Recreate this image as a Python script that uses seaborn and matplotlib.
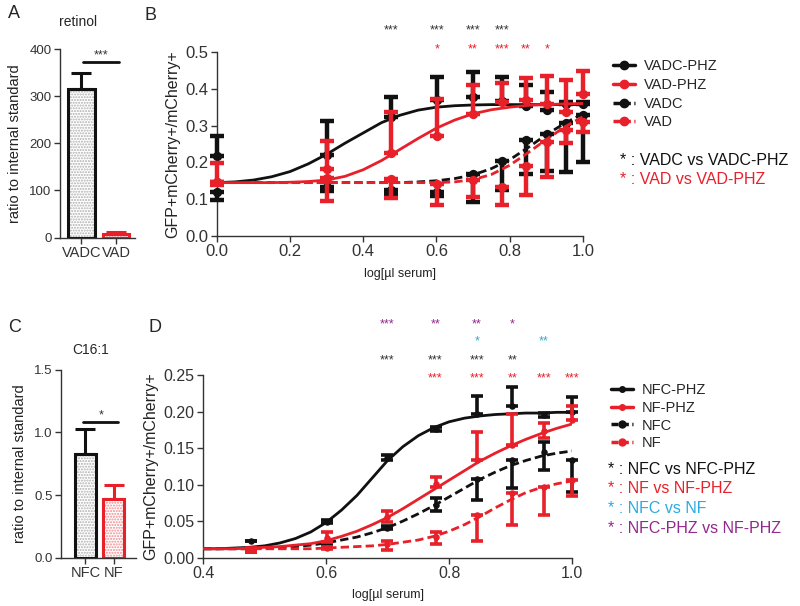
import matplotlib
matplotlib.use("Agg")
import matplotlib.pyplot as plt
from matplotlib.lines import Line2D
import numpy as np
import pandas as pd
import seaborn as sns

sns.set_style("ticks")
plt.rcParams['font.family'] = ['Liberation Sans', 'DejaVu Sans']

BLACK = '#111111'
RED = '#e8202a'
BLUE = '#29abe2'
PURPLE = '#93278f'
AXC = '#333333'

# ---- panel A / C: bar data
a_cats = ['VADC', 'VAD']
a_vals = [316, 8]
a_errs = [34, 4]
c_cats = ['NFC', 'NF']
c_vals = [0.827, 0.47]
c_errs = [0.20, 0.11]

# ---- panel B: points (x = log ul serum)
b_x = [0.0, 0.301, 0.477, 0.602, 0.699, 0.778, 0.845, 0.903, 0.954, 1.0]
b_vadc_phz = [0.217, 0.220, 0.322, 0.370, 0.379, 0.368, 0.354, 0.342, 0.360, 0.360]
b_vadc_phz_hi = [0.056, 0.092, 0.057, 0.061, 0.066, 0.063, 0.056, 0.048, 0.005, 0.005]
b_vad_phz = [0.148, 0.181, 0.226, 0.273, 0.331, 0.365, 0.370, 0.360, 0.338, 0.386]
b_vad_phz_hi = [0.051, 0.077, 0.112, 0.098, 0.079, 0.052, 0.058, 0.075, 0.086, 0.061]
b_vadc = [0.120, 0.132, 0.125, 0.120, 0.168, 0.205, 0.261, 0.277, 0.307, 0.329]
b_vadc_lo = [0.022, 0.010, 0.010, 0.010, 0.075, 0.080, 0.093, 0.100, 0.132, 0.127]
b_vad = [0.148, 0.157, 0.154, 0.140, 0.152, 0.134, 0.190, 0.256, 0.288, 0.310]
b_vad_lo = [0.010, 0.062, 0.051, 0.056, 0.045, 0.050, 0.079, 0.095, 0.034, 0.027]

# panel B fitted curves
bc_x = [0.0, 0.05, 0.1, 0.15, 0.2, 0.25, 0.3, 0.35, 0.4, 0.45, 0.5,
        0.55, 0.6, 0.65, 0.7, 0.75, 0.8, 0.85, 0.9, 0.95, 1.0]
bc_vadc_phz = [0.145, 0.147, 0.152, 0.161, 0.175, 0.196, 0.222, 0.252, 0.280, 0.308, 0.328,
               0.342, 0.350, 0.354, 0.356, 0.357, 0.357, 0.357, 0.357, 0.357, 0.357]
bc_vad_phz = [0.145, 0.145, 0.145, 0.145, 0.146, 0.148, 0.152, 0.162, 0.180, 0.205, 0.235,
              0.265, 0.293, 0.315, 0.332, 0.343, 0.350, 0.355, 0.357, 0.359, 0.360]
bc_vadc = [0.145, 0.145, 0.145, 0.145, 0.145, 0.145, 0.145, 0.145, 0.145, 0.145, 0.145,
           0.147, 0.150, 0.156, 0.166, 0.183, 0.207, 0.240, 0.275, 0.306, 0.332]
bc_vad = [0.145, 0.145, 0.145, 0.145, 0.145, 0.145, 0.145, 0.145, 0.145, 0.145, 0.145,
          0.145, 0.145, 0.147, 0.153, 0.167, 0.192, 0.226, 0.262, 0.296, 0.324]

# panel B significance
b_sig_black_x = [0.477, 0.602, 0.699, 0.778]
b_sig_black = ['***', '***', '***', '***']
b_sig_red_x = [0.602, 0.699, 0.778, 0.845, 0.903]
b_sig_red = ['*', '**', '***', '**', '*']

# ---- panel D: points
d_x = [0.477, 0.602, 0.699, 0.778, 0.845, 0.903, 0.954, 1.0]
d_nfc_phz = [0.022, 0.049, 0.137, 0.176, 0.197, 0.208, 0.195, 0.200]
d_nfc_phz_lo = [0.0, 0.002, 0.004, 0.003, 0.0, 0.0, 0.003, 0.0]
d_nfc_phz_hi = [0.0, 0.003, 0.004, 0.003, 0.024, 0.026, 0.003, 0.020]
d_nf_phz = [0.010, 0.027, 0.055, 0.101, 0.133, 0.154, 0.174, 0.188]
d_nf_phz_lo = [0.003, 0.006, 0.006, 0.005, 0.0, 0.0, 0.010, 0.0]
d_nf_phz_hi = [0.003, 0.008, 0.009, 0.009, 0.039, 0.043, 0.010, 0.020]
d_nfc = [0.012, 0.018, 0.041, 0.072, 0.108, 0.133, 0.145, 0.133]
d_nfc_lo = [0.005, 0.002, 0.002, 0.008, 0.029, 0.038, 0.025, 0.043]
d_nfc_hi = [0.0, 0.002, 0.002, 0.009, 0.0, 0.0, 0.013, 0.0]
d_nf = [0.011, 0.013, 0.019, 0.028, 0.058, 0.088, 0.097, 0.106]
d_nf_lo = [0.003, 0.002, 0.009, 0.009, 0.036, 0.044, 0.039, 0.021]
d_nf_hi = [0.0, 0.002, 0.004, 0.007, 0.0, 0.0, 0.0, 0.0]

dc_x = [0.4, 0.425, 0.45, 0.475, 0.5, 0.525, 0.55, 0.575, 0.6, 0.625, 0.65, 0.675, 0.7,
        0.725, 0.75, 0.775, 0.8, 0.825, 0.85, 0.875, 0.9, 0.925, 0.95, 0.975, 1.0]
dc_nfc_phz = [0.012, 0.012, 0.013, 0.014, 0.016, 0.020, 0.026, 0.035, 0.048, 0.065, 0.085, 0.109, 0.133,
              0.152, 0.167, 0.178, 0.186, 0.191, 0.194, 0.196, 0.197, 0.198, 0.198, 0.199, 0.199]
dc_nf_phz = [0.012, 0.012, 0.012, 0.013, 0.014, 0.015, 0.017, 0.019, 0.023, 0.029, 0.036, 0.045, 0.055,
             0.067, 0.080, 0.093, 0.106, 0.119, 0.132, 0.143, 0.153, 0.162, 0.170, 0.177, 0.183]
dc_nfc = [0.012, 0.012, 0.012, 0.012, 0.013, 0.014, 0.015, 0.017, 0.020, 0.024, 0.028, 0.034, 0.041,
          0.050, 0.060, 0.071, 0.083, 0.095, 0.107, 0.117, 0.126, 0.133, 0.139, 0.143, 0.146]
dc_nf = [0.012, 0.012, 0.012, 0.012, 0.012, 0.012, 0.012, 0.012, 0.013, 0.014, 0.015, 0.016, 0.018,
         0.021, 0.024, 0.029, 0.036, 0.045, 0.056, 0.068, 0.079, 0.089, 0.096, 0.101, 0.105]

# panel D significance rows: (y, colour, x list, labels)
d_sig_rows = [
    (0.319, PURPLE, [0.699, 0.778, 0.845, 0.903], ['***', '**', '**', '*']),
    (0.296, BLUE, [0.845, 0.954], ['*', '**']),
    (0.270, AXC, [0.699, 0.778, 0.845, 0.903], ['***', '***', '***', '**']),
    (0.245, RED, [0.778, 0.845, 0.903, 0.954, 1.0], ['***', '***', '**', '***', '***']),
]


def style_axes(ax, lsize):
    sns.despine(ax=ax)
    for s in ['left', 'bottom']:
        ax.spines[s].set_color(AXC)
        ax.spines[s].set_linewidth(1.0)
    ax.tick_params(direction='out', length=4, width=1, color=AXC,
                   labelcolor=AXC, labelsize=lsize, pad=2)


def bar_panel(ax, cats, vals, errs, width, xlim, ylim, yticks):
    colors = [BLACK, RED]
    tex = ['#b0b0b0', '#f08a8f']
    sns.barplot(x=cats, y=vals, hue=cats, palette=['white', 'white'], width=width,
                errorbar=None, legend=False, ax=ax)
    for p, t in zip(ax.patches, tex):
        p.set_hatch('......')
        p.set_edgecolor(t)
        p.set_linewidth(0)
    sns.barplot(x=cats, y=vals, hue=cats, palette=colors, width=width, fill=False,
                errorbar=None, legend=False, linewidth=2.2, ax=ax)
    for i, (v, e, c) in enumerate(zip(vals, errs, colors)):
        ax.errorbar([i], [v], yerr=[[0], [e]], fmt='none', ecolor=c,
                    elinewidth=2.2, capsize=7, capthick=2.2, zorder=5)
    ax.set_xlim(*xlim)
    ax.set_ylim(*ylim)
    ax.set_yticks(yticks)
    style_axes(ax, 9.5)
    ax.tick_params(axis='x', labelsize=10.5)
    ax.set_ylabel('ratio to internal standard', fontsize=10.5, color='#222222', labelpad=5)


def curve_panel(ax, series, ms, elw, cap):
    for xs, mean, lo, hi, cx, cy, col, ls, z in series:
        sns.lineplot(x=cx, y=cy, color=col, linestyle=ls, linewidth=2, ax=ax, zorder=z)
        ax.errorbar(xs, mean, yerr=[lo, hi], fmt='none', ecolor=col, elinewidth=elw,
                    capsize=cap, capthick=elw, zorder=z, clip_on=False)
        sns.scatterplot(x=xs, y=mean, color=col, s=ms, edgecolor=col, linewidth=0,
                        ax=ax, zorder=z + 0.5, clip_on=False)


fig = plt.figure(figsize=(8, 6.06), dpi=100)

# ---------- A
axA = fig.add_axes([0.075, 0.608, 0.094, 0.311])
bar_panel(axA, a_cats, a_vals, a_errs, 0.77, (-0.62, 1.55), (0, 400), [0, 100, 200, 300, 400])
axA.plot([0.03, 1.07], [372, 372], color=BLACK, lw=2, clip_on=False)
axA.text(0.57, 374, '***', ha='center', va='bottom', fontsize=9, color=AXC)
fig.text(78 / 800, 1 - 22 / 606, 'retinol', ha='center', va='center', fontsize=10)
fig.text(8 / 800, 1 - 14 / 606, 'A', ha='left', va='center', fontsize=13)

# ---------- C
axC = fig.add_axes([0.076, 0.0797, 0.094, 0.31])
bar_panel(axC, c_cats, c_vals, c_errs, 0.73, (-0.875, 1.8), (0, 1.5), [0.0, 0.5, 1.0, 1.5])
axC.set_yticklabels(['0.0', '0.5', '1.0', '1.5'])
axC.plot([-0.1, 1.16], [1.08, 1.08], color=BLACK, lw=2, clip_on=False)
axC.text(0.55, 1.09, '*', ha='center', va='bottom', fontsize=9, color=AXC)
fig.text(91 / 800, 1 - 350 / 606, 'C16:1', ha='center', va='center', fontsize=10)
fig.text(8 / 800, 1 - 328 / 606, 'C', ha='left', va='center', fontsize=13)

# ---------- B
axB = fig.add_axes([0.271, 0.6106, 0.4575, 0.3036])
zeros_b = [0] * len(b_x)
curve_panel(axB, [
    (b_x, b_vadc, b_vadc_lo, zeros_b, bc_x, bc_vadc, BLACK, (0, (3, 1.5)), 3),
    (b_x, b_vad, b_vad_lo, zeros_b, bc_x, bc_vad, RED, (0, (3, 1.5)), 4),
    (b_x, b_vadc_phz, zeros_b, b_vadc_phz_hi, bc_x, bc_vadc_phz, BLACK, '-', 5),
    (b_x, b_vad_phz, zeros_b, b_vad_phz_hi, bc_x, bc_vad_phz, RED, '-', 6),
], ms=45, elw=3.2, cap=5)
axB.set_xlim(0, 1)
axB.set_ylim(0, 0.5)
axB.set_xticks([0, 0.2, 0.4, 0.6, 0.8, 1.0])
axB.set_yticks([0, 0.1, 0.2, 0.3, 0.4, 0.5])
axB.set_xticklabels(['0.0', '0.2', '0.4', '0.6', '0.8', '1.0'])
axB.set_yticklabels(['0.0', '0.1', '0.2', '0.3', '0.4', '0.5'])
style_axes(axB, 12)
axB.set_xlabel('log[µl serum]', fontsize=9, color='#222222', labelpad=6)
axB.set_ylabel('GFP+mCherry+/mCherry+', fontsize=11.5, color='#222222', labelpad=4)
for x, s in zip(b_sig_black_x, b_sig_black):
    axB.text(x, 0.558, s, ha='center', va='center', fontsize=9, color=AXC)
for x, s in zip(b_sig_red_x, b_sig_red):
    axB.text(x, 0.508, s, ha='center', va='center', fontsize=9, color=RED)
fig.text(145 / 800, 1 - 15 / 606, 'B', ha='left', va='center', fontsize=13)

hb = [Line2D([], [], color=BLACK, lw=2.5, marker='o', ms=6),
      Line2D([], [], color=RED, lw=2.5, marker='o', ms=6),
      Line2D([], [], color=BLACK, lw=2.5, ls=(0, (2, 1)), marker='o', ms=6),
      Line2D([], [], color=RED, lw=2.5, ls=(0, (2, 1)), marker='o', ms=6)]
fig.legend(hb, ['VADC-PHZ', 'VAD-PHZ', 'VADC', 'VAD'], loc='upper left',
           bbox_to_anchor=(606 / 800, 1 - 52 / 606), frameon=False, fontsize=10.5,
           handlelength=1.5, handletextpad=0.6, labelspacing=0.32, borderpad=0)
fig.text(620 / 800, 1 - 161 / 606, '* : VADC vs VADC-PHZ', ha='left', va='center',
         fontsize=11.5, color=BLACK)
fig.text(620 / 800, 1 - 180 / 606, '* : VAD vs VAD-PHZ', ha='left', va='center',
         fontsize=11.5, color=RED)

# ---------- D
axD = fig.add_axes([0.254, 0.08, 0.461, 0.301])
curve_panel(axD, [
    (d_x, d_nfc, d_nfc_lo, d_nfc_hi, dc_x, dc_nfc, BLACK, (0, (3, 1.5)), 3),
    (d_x, d_nf, d_nf_lo, d_nf_hi, dc_x, dc_nf, RED, (0, (3, 1.5)), 4),
    (d_x, d_nfc_phz, d_nfc_phz_lo, d_nfc_phz_hi, dc_x, dc_nfc_phz, BLACK, '-', 5),
    (d_x, d_nf_phz, d_nf_phz_lo, d_nf_phz_hi, dc_x, dc_nf_phz, RED, '-', 6),
], ms=22, elw=2.6, cap=4)
axD.set_xlim(0.4, 1.0)
axD.set_ylim(0, 0.25)
axD.set_xticks([0.4, 0.6, 0.8, 1.0])
axD.set_xticklabels(['0.4', '0.6', '0.8', '1.0'])
axD.set_yticks([0, 0.05, 0.10, 0.15, 0.20, 0.25])
axD.set_yticklabels(['0.00', '0.05', '0.10', '0.15', '0.20', '0.25'])
style_axes(axD, 11.5)
axD.set_xlabel('log[µl serum]', fontsize=9, color='#222222', labelpad=6)
axD.set_ylabel('GFP+mCherry+/mCherry+', fontsize=11.5, color='#222222', labelpad=4)
for y, col, xs, labs in d_sig_rows:
    for x, s in zip(xs, labs):
        axD.text(x, y, s, ha='center', va='center', fontsize=9, color=col)
fig.text(148 / 800, 1 - 328 / 606, 'D', ha='left', va='center', fontsize=13)

hd = [Line2D([], [], color=BLACK, lw=2.5, marker='o', ms=4),
      Line2D([], [], color=RED, lw=2.5, marker='o', ms=4),
      Line2D([], [], color=BLACK, lw=2.5, ls=(0, (2, 1)), marker='o', ms=5),
      Line2D([], [], color=RED, lw=2.5, ls=(0, (2, 1)), marker='o', ms=5)]
fig.legend(hd, ['NFC-PHZ', 'NF-PHZ', 'NFC', 'NF'], loc='upper left',
           bbox_to_anchor=(604 / 800, 1 - 376 / 606), frameon=False, fontsize=10.5,
           handlelength=1.5, handletextpad=0.6, labelspacing=0.25, borderpad=0)
d_notes = [('* : NFC vs NFC-PHZ', BLACK), ('* : NF vs NF-PHZ', RED),
           ('* : NFC vs NF', BLUE), ('* : NFC-PHZ vs NF-PHZ', PURPLE)]
for i, (t, col) in enumerate(d_notes):
    fig.text(608 / 800, 1 - (469 + 19.8 * i) / 606, t, ha='left', va='center',
             fontsize=11.5, color=col)

fig.savefig('out.png', dpi=100)
